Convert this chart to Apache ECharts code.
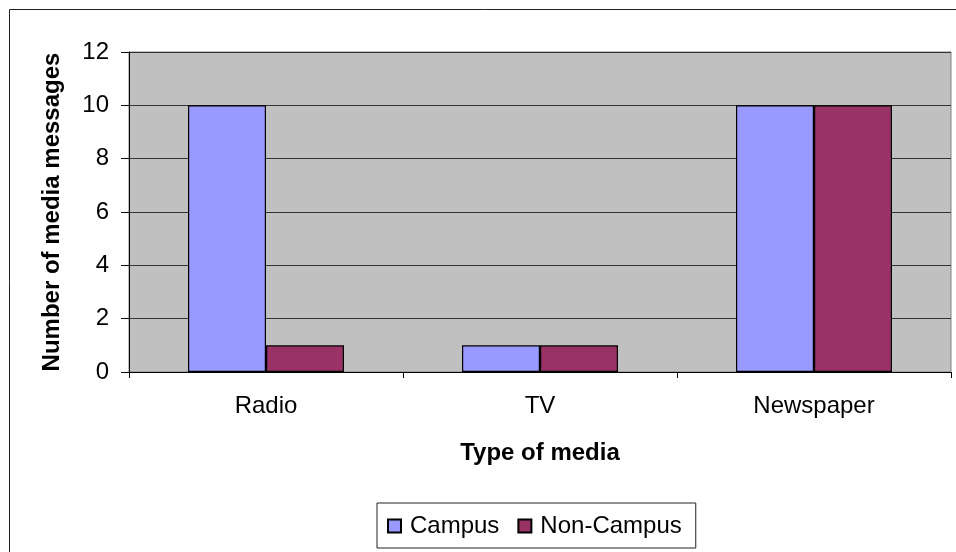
<!DOCTYPE html>
<html>
<head>
<meta charset="utf-8">
<script src="https://cdn.jsdelivr.net/npm/echarts@6/dist/echarts.min.js"></script>
<style>
  body { margin: 0; background: #fff; }
  #chart { width: 956px; height: 552px; }
</style>
</head>
<body>
<div id="chart"></div>
<script>
// data
const categories = ['Radio', 'TV', 'Newspaper'];
const campus = [10, 1, 10];
const nonCampus = [1, 1, 10];
const yTicks = [0, 2, 4, 6, 8, 10, 12];

const chart = echarts.init(document.getElementById('chart'));
const font = 'Liberation Sans, Arial, sans-serif';

const option = {
  animation: false,
  textStyle: { fontFamily: font },
  // outer chart frame, cut off on the right and bottom like the original
  graphic: [{
    type: 'rect',
    shape: { x: 9.5, y: 9.5, width: 1100, height: 700 },
    style: { fill: 'none', stroke: '#222', lineWidth: 1 },
    silent: true
  }],
  grid: {
    left: 129, right: 5, top: 52, bottom: 180,
    show: true, backgroundColor: '#C0C0C0',
    borderColor: '#808080', borderWidth: 1
  },
  legend: {
    data: ['Campus', 'Non-Campus'],
    top: 503,
    left: 377,
    icon: 'rect',
    itemWidth: 13,
    itemHeight: 13,
    itemGap: 18,
    padding: [11, 14, 10, 10],
    borderColor: '#222',
    borderWidth: 1,
    textStyle: { fontSize: 24, color: '#000', fontFamily: font, padding: [0, 0, 0, 4] }
  },
  xAxis: {
    type: 'category',
    data: categories,
    name: 'Type of media',
    nameLocation: 'middle',
    nameGap: 69,
    nameTextStyle: { fontSize: 24, fontWeight: 'bold', color: '#000', fontFamily: font },
    axisLine: { lineStyle: { color: '#000' } },
    axisTick: { show: true, length: 6, lineStyle: { color: '#000' } },
    axisLabel: { fontSize: 24, color: '#000', margin: 22, fontFamily: font }
  },
  yAxis: {
    type: 'value',
    min: yTicks[0],
    max: yTicks[yTicks.length - 1],
    interval: 2,
    name: 'Number of media messages',
    nameLocation: 'middle',
    nameGap: 65,
    nameTextStyle: { fontSize: 24, fontWeight: 'bold', color: '#000', fontFamily: font },
    axisLine: { show: true, lineStyle: { color: '#000' } },
    axisTick: { show: true, length: 8, inside: false, lineStyle: { color: '#000' } },
    axisLabel: { fontSize: 24, color: '#000', margin: 20, fontFamily: font },
    splitLine: { lineStyle: { color: '#333', width: 1 } }
  },
  series: [
    {
      name: 'Campus',
      type: 'bar',
      data: campus,
      barWidth: 78,
      barGap: '0%',
      itemStyle: { color: '#9999FF', borderColor: '#000', borderWidth: 1.2 }
    },
    {
      name: 'Non-Campus',
      type: 'bar',
      data: nonCampus,
      barWidth: 78,
      barGap: '0%',
      itemStyle: { color: '#993366', borderColor: '#000', borderWidth: 1.2 }
    }
  ]
};

chart.setOption(option);
</script>
</body>
</html>
